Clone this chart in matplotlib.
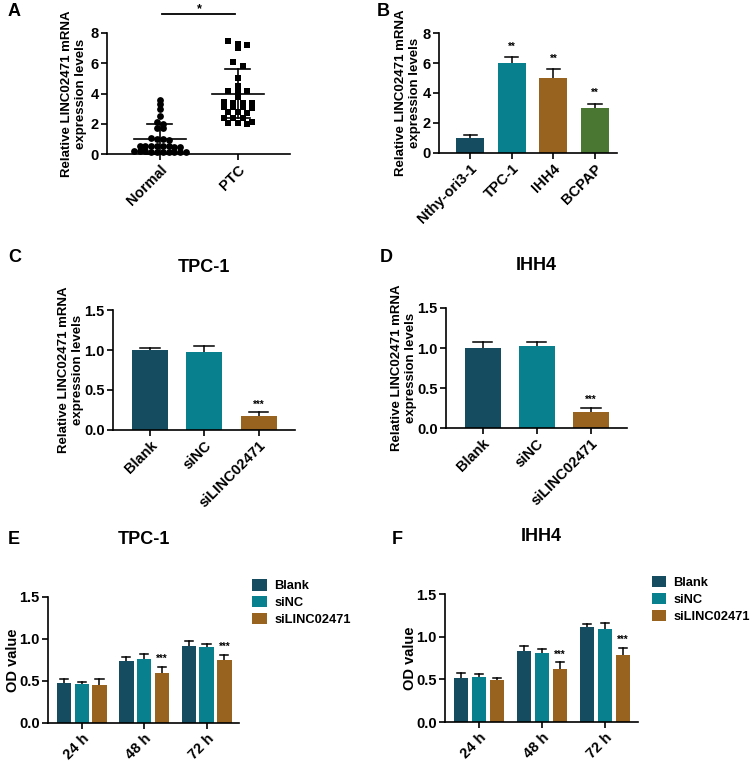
#!/usr/bin/env python3
import numpy as np
import matplotlib
matplotlib.use('Agg')
import matplotlib.pyplot as plt
from matplotlib.patches import Patch

plt.rcParams['font.family'] = ['Liberation Sans', 'DejaVu Sans']
plt.rcParams['font.weight'] = 'bold'
plt.rcParams['axes.labelweight'] = 'bold'

DARK = '#164c5f'
TEAL = '#08808d'
BROWN = '#98621f'
GREEN = '#4a7731'

YLAB = 'Relative LINC02471 mRNA\nexpression levels'

# Panel A: individual samples
normal_vals = [3.6, 3.3, 2.95, 2.5, 2.1, 2.0, 1.75, 1.7, 1.05, 1.0, 1.0, 0.95,
               0.55, 0.5, 0.5, 0.45, 0.55, 0.5, 0.45, 0.5, 0.2, 0.15, 0.15, 0.1,
               0.2, 0.15, 0.1, 0.15, 0.2, 0.1]
ptc_vals = [7.5, 7.25, 7.2, 7.0, 6.1, 5.85, 5.05, 4.5, 4.15, 4.15, 4.15, 3.8,
            3.45, 3.4, 3.4, 3.4, 3.1, 3.1, 3.1, 3.05, 2.75, 2.75, 2.7, 2.4,
            2.4, 2.35, 2.1, 2.05, 2.05, 2.0]
a_groups = ['Normal', 'PTC']
a_mean = [1.0, 4.0]
a_sd = [1.0, 1.65]

# Panel B
b_cells = ['Nthy-ori3-1', 'TPC-1', 'IHH4', 'BCPAP']
b_vals = [1.0, 6.0, 5.0, 3.0]
b_err = [0.2, 0.4, 0.6, 0.3]
b_sig = ['', '**', '**', '**']

# Panels C, D
cd_groups = ['Blank', 'siNC', 'siLINC02471']
c_vals = [1.0, 0.98, 0.17]
c_err = [0.03, 0.07, 0.05]
d_vals = [1.0, 1.02, 0.2]
d_err = [0.08, 0.06, 0.05]
cd_sig = ['', '', '***']

# Panels E, F (rows: Blank, siNC, siLINC02471)
times = ['24 h', '48 h', '72 h']
e_vals = [[0.48, 0.74, 0.92], [0.46, 0.76, 0.90], [0.45, 0.59, 0.75]]
e_err = [[0.04, 0.05, 0.06], [0.03, 0.06, 0.04], [0.07, 0.08, 0.06]]
f_vals = [[0.52, 0.83, 1.11], [0.53, 0.81, 1.09], [0.49, 0.62, 0.78]]
f_err = [[0.05, 0.06, 0.04], [0.03, 0.05, 0.07], [0.02, 0.08, 0.09]]
ef_sig = ['', '***', '***']

W, H = 753, 764
fig = plt.figure(figsize=(W / 100, H / 100), dpi=100)

TICK = 10.5
LAB = 9.5


def add_ax(l, r, b, t):
    return fig.add_axes([l / W, 1 - b / H, (r - l) / W, (b - t) / H])


def style(ax):
    for s in ('top', 'right'):
        ax.spines[s].set_visible(False)
    for s in ('left', 'bottom'):
        ax.spines[s].set_linewidth(1.2)
    ax.tick_params(width=1.2, length=4, labelsize=TICK, pad=2)
    for lab in ax.get_yticklabels() + ax.get_xticklabels():
        lab.set_fontweight('bold')


def ylab(ax, text, dx_px, size=LAB):
    ax.set_ylabel(text, fontsize=size, linespacing=1.15)
    ax.yaxis.label.set_va('center')
    w = ax.get_position().width * W
    ax.yaxis.set_label_coords(-dx_px / w, 0.5)


def xlabels(ax, labels):
    ax.set_xticks(range(len(labels)))
    ax.set_xticklabels(labels, rotation=45, ha='right', rotation_mode='anchor',
                       fontsize=TICK, fontweight='bold')


def upper_err(ax, x, v, e, w):
    ax.plot([x, x], [v, v + e], color='black', lw=1.1, zorder=1)
    ax.plot([x - w / 2, x + w / 2], [v + e, v + e], color='black', lw=1.1, zorder=1)


def row_layout(vals, gap, step_px, ux):
    # stack points into horizontal rows, spread evenly around the centre
    order = np.argsort(vals)[::-1]
    xs = np.zeros(len(vals))
    rows, cur = [], [order[0]]
    for i in order[1:]:
        if vals[cur[0]] - vals[i] < gap:
            cur.append(i)
        else:
            rows.append(cur)
            cur = [i]
    rows.append(cur)
    for r in rows:
        n = len(r)
        for k, i in enumerate(r):
            xs[i] = (k - (n - 1) / 2) * step_px / ux
    return xs


# ---------- A ----------
ax = add_ax(107, 290, 154, 33)
ux = 78.0
for i, (vals, mk, step) in enumerate([(normal_vals, 'o', 5.8), (ptc_vals, 's', 9.5)]):
    xs = row_layout(vals, 0.3, step, ux)
    ax.scatter(i + xs, vals, marker=mk, s=24 if mk == 'o' else 22, color='black',
               zorder=3, linewidths=0, clip_on=False)
    m, s = a_mean[i], a_sd[i]
    ax.plot([i - 0.33, i + 0.33], [m, m], color='black', lw=1.2, zorder=4)
    ax.plot([i, i], [max(m - s, 0), m + s], color='black', lw=1.2, zorder=4)
    for yy in (m - s, m + s):
        ax.plot([i - 0.16, i + 0.16], [yy, yy], color='black', lw=1.2, zorder=4,
                clip_on=False)
ax.set_xlim(-0.68, 1.67)
ax.set_ylim(0, 8)
ax.set_yticks([0, 2, 4, 6, 8])
xlabels(ax, a_groups)
ax.plot([0.03, 0.96], [9.25, 9.25], color='black', lw=1.3, clip_on=False)
ax.text(0.5, 9.4, '*', ha='center', va='baseline', fontsize=9)
ylab(ax, YLAB, 33)
style(ax)

# ---------- B ----------
ax = add_ax(439, 617, 153, 33)
cols_b = [DARK, TEAL, BROWN, GREEN]
x = np.arange(len(b_cells))
ax.bar(x, b_vals, width=0.67, color=cols_b, zorder=2)
for i in range(len(b_cells)):
    upper_err(ax, x[i], b_vals[i], b_err[i], 0.32)
    if b_sig[i]:
        ax.annotate(b_sig[i], (x[i], b_vals[i] + b_err[i]), xytext=(0, 4),
                    textcoords='offset points', ha='center', va='bottom', fontsize=7)
ax.set_xlim(-0.75, 3.53)
ax.set_ylim(0, 8)
ax.set_yticks([0, 2, 4, 6, 8])
xlabels(ax, b_cells)
ylab(ax, YLAB, 31)
style(ax)

# ---------- C & D ----------
cols_cd = [DARK, TEAL, BROWN]
for (l, r, b, t, vals, errs, title) in [
        (113, 295, 430, 310, c_vals, c_err, 'TPC-1'),
        (446, 627, 428, 308, d_vals, d_err, 'IHH4')]:
    ax = add_ax(l, r, b, t)
    x = np.arange(len(cd_groups))
    ax.bar(x, vals, width=0.66, color=cols_cd, zorder=2)
    for i in range(len(cd_groups)):
        upper_err(ax, x[i], vals[i], errs[i], 0.36)
        if cd_sig[i]:
            ax.annotate(cd_sig[i], (x[i], vals[i] + errs[i]), xytext=(0, 2),
                        textcoords='offset points', ha='center', va='bottom',
                        fontsize=7)
    ax.set_xlim(-0.68, 2.67)
    ax.set_ylim(0, 1.5)
    ax.set_yticks([0, 0.5, 1.0, 1.5])
    ax.set_yticklabels(['0.0', '0.5', '1.0', '1.5'])
    xlabels(ax, cd_groups)
    ylab(ax, YLAB, 42)
    ax.set_title(title, fontsize=13, fontweight='bold', pad=27)
    style(ax)

# ---------- E & F ----------
series = ['Blank', 'siNC', 'siLINC02471']
for (l, r, b, t, vals, errs, title) in [
        (48, 239, 723, 597, e_vals, e_err, 'TPC-1'),
        (445, 638, 722, 594, f_vals, f_err, 'IHH4')]:
    ax = add_ax(l, r, b, t)
    x = np.arange(len(times))
    offs = [-0.285, 0.0, 0.285]
    for j in range(3):
        ax.bar(x + offs[j], vals[j], width=0.23, color=cols_cd[j], zorder=2)
        for k in range(len(times)):
            upper_err(ax, x[k] + offs[j], vals[j][k], errs[j][k], 0.13)
            if j == 2 and ef_sig[k]:
                ax.annotate(ef_sig[k], (x[k] + offs[j], vals[j][k] + errs[j][k]),
                            xytext=(0, 2), textcoords='offset points',
                            ha='center', va='bottom', fontsize=7)
    ax.set_xlim(-0.54, 2.52)
    ax.set_ylim(0, 1.5)
    ax.set_yticks([0, 0.5, 1.0, 1.5])
    ax.set_yticklabels(['0.0', '0.5', '1.0', '1.5'])
    xlabels(ax, times)
    ylab(ax, 'OD value', 35, size=10.5)
    ax.set_title(title, fontsize=13, fontweight='bold', pad=38)
    handles = [Patch(facecolor=c) for c in cols_cd]
    ax.legend(handles, series, loc='upper left', bbox_to_anchor=(1.07, 1.14),
              frameon=False, borderpad=0, borderaxespad=0, handlelength=1.15,
              handleheight=0.95, handletextpad=0.55, labelspacing=0.3,
              prop={'size': 9.3, 'weight': 'bold'})
    style(ax)

# panel letters
for lab, px, py in [('A', 8, 12), ('B', 377, 12), ('C', 8, 258), ('D', 380, 258),
                    ('E', 8, 540), ('F', 392, 540)]:
    fig.text(px / W, 1 - py / H, lab, fontsize=13, fontweight='bold',
             ha='left', va='center')

fig.savefig('out.png', dpi=100)
